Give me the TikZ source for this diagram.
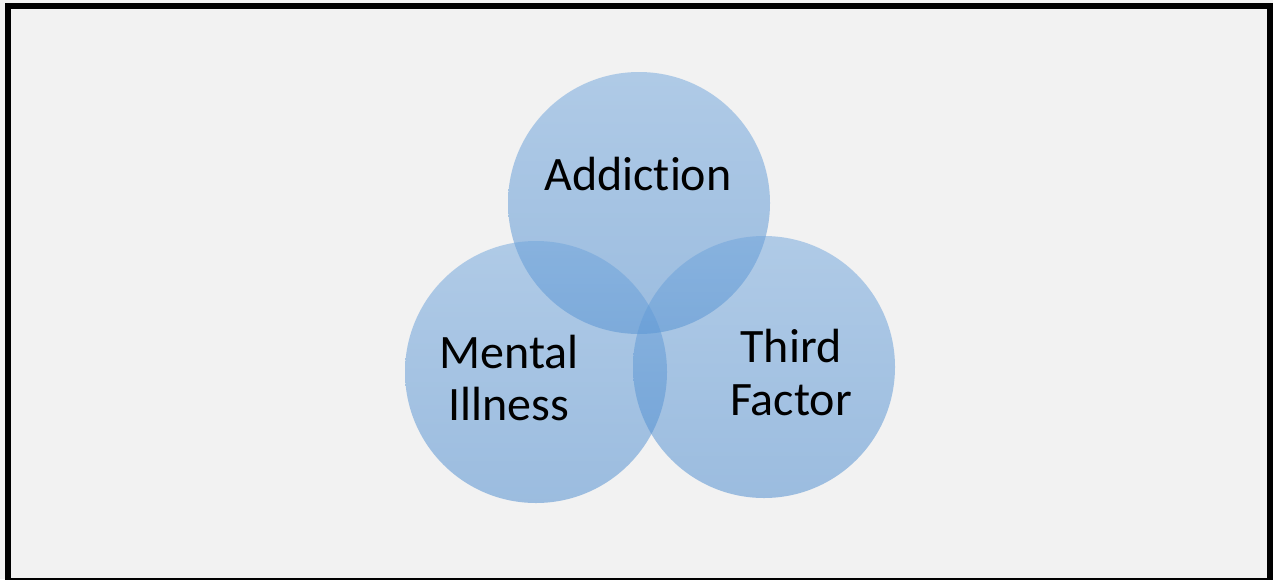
\documentclass[tikz,border=0pt]{standalone}
\usepackage{fontspec}
\setmainfont[Ligatures=CommonOff]{Carlito}
\begin{document}
\begin{tikzpicture}[x=1pt,y=-1pt,
  bubble/.style={circle, minimum size=262pt, inner sep=0pt,
    top color={rgb,255:red,110;green,164;blue,220},
    bottom color={rgb,255:red,70;green,136;blue,206},
    fill opacity=0.5, draw=none},
  label/.style={font=\fontsize{48}{52}\selectfont, text=black, anchor=base, inner sep=0pt}]
  \useasboundingbox (0,0) rectangle (1273,579);
  % page background and frame
  \fill[fill={rgb,255:red,242;green,242;blue,242}] (0,0) rectangle (1273,579);
  \begin{scope}
    \clip (0,0) rectangle (1273,579);
    \draw[line width=6pt] (8,6) rectangle (1270,581);
  \end{scope}
  % three overlapping circles
  \node[bubble] (add) at (639,203) {};
  \node[bubble] (men) at (536,372) {};
  \node[bubble] (thi) at (764,367) {};
  % labels
  \node[label] (tadd) at (638,190) {Addiction};
  \node[label] (tmen1) at (509,368) {Mental};
  \node[label] (tmen2) at (509,420) {Illness};
  \node[label] (tthi1) at (791,362) {Third};
  \node[label] (tthi2) at (791,415) {Factor};
\end{tikzpicture}
\end{document}
